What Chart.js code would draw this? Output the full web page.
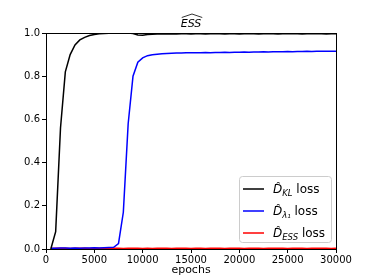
<!DOCTYPE html>
<html>
<head>
<meta charset="utf-8">
<script src="https://cdn.jsdelivr.net/npm/chart.js"></script>
<style>
html,body{margin:0;padding:0;background:#fff;}
#wrap{width:374px;height:280px;position:relative;}
</style>
</head>
<body>
<div id="wrap"><canvas id="c" width="374" height="280"></canvas></div>
<script>
const epochs = [500,1000,1500,2000,2500,3000,3500,4000,4500,5000,5500,6000,6500,7000,7500,8000,8500,9000,9500,10000,
10500,11000,11500,12000,12500,13000,13500,14000,14500,15000,15500,16000,16500,17000,17500,18000,18500,19000,19500,20000,
20500,21000,21500,22000,22500,23000,23500,24000,24500,25000,25500,26000,26500,27000,27500,28000,28500,29000,29500,30000];

const klLoss = [0.0,0.08,0.56,0.82,0.90,0.945,0.968,0.980,0.988,0.993,0.996,0.998,0.999,0.999,1.0,1.0,1.0,0.998,0.991,0.990,
0.993,0.994,0.995,0.995,0.995,0.996,0.995,0.996,0.996,0.995,0.996,0.996,0.995,0.996,0.996,0.996,0.995,0.996,0.996,0.995,
0.996,0.996,0.996,0.995,0.996,0.996,0.996,0.995,0.996,0.996,0.996,0.996,0.995,0.996,0.996,0.996,0.996,0.995,0.996,0.996];

const lambdaLoss = [0.003,0.004,0.005,0.005,0.004,0.005,0.004,0.005,0.005,0.006,0.005,0.006,0.007,0.008,0.025,0.17,0.58,0.80,0.865,0.885,
0.895,0.899,0.902,0.904,0.905,0.906,0.907,0.907,0.908,0.908,0.909,0.909,0.910,0.909,0.910,0.910,0.911,0.910,0.911,0.911,
0.912,0.911,0.912,0.912,0.913,0.912,0.913,0.913,0.913,0.914,0.913,0.914,0.914,0.915,0.914,0.915,0.915,0.915,0.916,0.916];

const essLoss = [0.002,0.003,0.004,0.003,0.002,0.003,0.004,0.003,0.002,0.003,0.004,0.003,0.002,0.004,0.003,0.002,0.003,0.004,0.003,0.002,
0.003,0.002,0.003,0.004,0.003,0.002,0.003,0.003,0.004,0.002,0.003,0.003,0.002,0.004,0.003,0.003,0.002,0.003,0.004,0.003,
0.002,0.003,0.004,0.003,0.002,0.003,0.003,0.004,0.003,0.002,0.003,0.004,0.003,0.002,0.003,0.003,0.004,0.003,0.002,0.003];

const xTicks = [0,5000,10000,15000,20000,25000,30000];
const yTicks = [0.0,0.2,0.4,0.6,0.8,1.0];
const seriesNames = ["KL","λ₁","ESS"];
const seriesColors = ['#000000','#0000ff','#ff0000'];
const chartTitle = "ESS";
const xTitle = "epochs";

const toPts = arr => arr.map((v,i)=>({x:epochs[i], y:v}));
const FONT = "'DejaVu Sans', sans-serif";

const framePlugin = {
  id:'frame',
  afterDraw(chart){
    const {ctx, chartArea:a} = chart;
    ctx.save();
    ctx.strokeStyle='#000'; ctx.lineWidth=1;
    ctx.strokeRect(Math.round(a.left)+0.5, Math.round(a.top)+0.5, Math.round(a.right-a.left), Math.round(a.bottom-a.top));
    // title with wide hat
    ctx.fillStyle='#000';
    ctx.font = "italic 11px " + FONT;
    ctx.textAlign='center'; ctx.textBaseline='alphabetic';
    const cx = (a.left+a.right)/2, by = 27;
    ctx.fillText(chartTitle, cx, by);
    const w = ctx.measureText(chartTitle).width;
    ctx.beginPath();
    ctx.lineWidth=0.8;
    ctx.moveTo(cx - w/2 + 1, by - 9.5);
    ctx.lineTo(cx + 1, by - 13);
    ctx.lineTo(cx + w/2 + 1, by - 9.5);
    ctx.stroke();
    // legend
    const lx = 239.5, ly = 176.5, lw = 92, lh = 66;
    ctx.beginPath();
    if (ctx.roundRect) ctx.roundRect(lx, ly, lw, lh, 3); else ctx.rect(lx,ly,lw,lh);
    ctx.fillStyle='rgba(255,255,255,0.8)'; ctx.fill();
    ctx.strokeStyle='#cccccc'; ctx.lineWidth=1; ctx.stroke();
    const rows = [189, 211, 233];
    ctx.textAlign='left'; ctx.textBaseline='alphabetic';
    rows.forEach((y,i)=>{
      ctx.strokeStyle = seriesColors[i]; ctx.lineWidth=1.5;
      ctx.beginPath(); ctx.moveTo(243, y); ctx.lineTo(264, y); ctx.stroke();
      ctx.fillStyle='#000';
      let x = 273;
      const base = y + 4;
      ctx.font = "italic 12px " + FONT;
      ctx.fillText("D̂", x, base);
      x += ctx.measureText("D").width;
      ctx.font = "italic 8.5px " + FONT;
      ctx.fillText(seriesNames[i], x, base + 2.5);
      x += ctx.measureText(seriesNames[i]).width;
      ctx.font = "12px " + FONT;
      ctx.fillText(" loss", x, base);
    });
    ctx.restore();
  }
};

new Chart(document.getElementById('c'), {
  type:'line',
  data:{
    datasets:[
      {label:'KL', data:toPts(klLoss), borderColor:seriesColors[0], borderWidth:1.5, pointRadius:0, fill:false, tension:0},
      {label:'lambda', data:toPts(lambdaLoss), borderColor:seriesColors[1], borderWidth:1.5, pointRadius:0, fill:false, tension:0},
      {label:'ESS', data:toPts(essLoss), borderColor:seriesColors[2], borderWidth:1.5, pointRadius:0, fill:false, tension:0}
    ]
  },
  options:{
    responsive:false, animation:false,
    layout:{padding:{top:33, right:38, left:0, bottom:0}},
    plugins:{legend:{display:false}, title:{display:false}, tooltip:{enabled:false}},
    scales:{
      x:{type:'linear', min:0, max:30000,
        afterBuildTicks(s){ s.ticks = xTicks.map(v=>({value:v})); },
        afterFit(s){ s.height = 31; },
        ticks:{color:'#000', font:{family:FONT, size:10}, padding:1, maxRotation:0, callback:v=>String(v)},
        grid:{drawOnChartArea:false, drawTicks:true, tickLength:4, color:'#000'},
        border:{display:true, color:'#000'},
        title:{display:true, text:xTitle, color:'#000', font:{family:FONT, size:11}, padding:{top:0,bottom:3}}
      },
      y:{min:0, max:1,
        afterBuildTicks(s){ s.ticks = yTicks.map(v=>({value:v})); },
        afterFit(s){ s.width = 46; },
        ticks:{color:'#000', font:{family:FONT, size:10}, padding:2, callback:v=>Number(v).toFixed(1)},
        grid:{drawOnChartArea:false, drawTicks:true, tickLength:4, color:'#000'},
        border:{display:true, color:'#000'}
      }
    }
  },
  plugins:[framePlugin]
});
</script>
</body>
</html>
